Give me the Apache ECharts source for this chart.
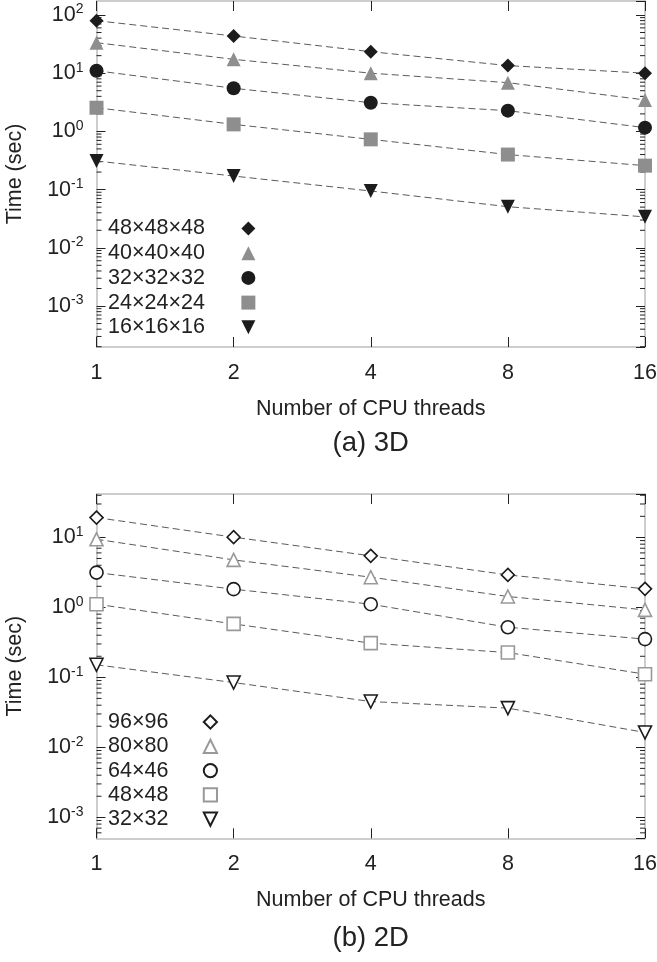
<!DOCTYPE html>
<html>
<head>
<meta charset="utf-8">
<script src="https://cdn.jsdelivr.net/npm/echarts@6/dist/echarts.min.js"></script>
<style>
html,body{margin:0;padding:0;background:#fff;}
#chart{width:657px;height:962px;}
</style>
</head>
<body>
<div id="chart"></div>
<script>
// ---- data ----
var threads = [1, 2, 4, 8, 16];
var xTickLabels = ['1', '2', '4', '8', '16'];

var names3D = ['48×48×48', '40×40×40', '32×32×32', '24×24×24', '16×16×16'];
var t3D_48 = [79.8, 43.5, 23.4, 13.5, 10.0];
var t3D_40 = [33.4, 17.3, 10.0, 6.87, 3.47];
var t3D_32 = [11.0, 5.5, 3.11, 2.27, 1.16];
var t3D_24 = [2.55, 1.32, 0.73, 0.40, 0.258];
var t3D_16 = [0.31, 0.171, 0.0946, 0.0508, 0.034];

var names2D = ['96×96', '80×80', '64×46', '48×48', '32×32'];
var t2D_96 = [19.2, 10.07, 5.45, 2.91, 1.84];
var t2D_80 = [9.4, 4.77, 2.70, 1.43, 0.92];
var t2D_64 = [3.14, 1.82, 1.11, 0.52, 0.352];
var t2D_48 = [1.11, 0.58, 0.308, 0.226, 0.111];
var t2D_32 = [0.151, 0.0843, 0.0451, 0.0363, 0.0163];

var yRange3D = [Math.pow(10, -3.704), Math.pow(10, 2.24)];
var yRange2D = [Math.pow(10, -3.30), Math.pow(10, 1.62)];

// ---- helpers ----
var FONT = 'Liberation Sans';
var TXT = '#222';
var AXIS_GRAY = '#bdbdbd';
var FS = 21.5;

function pairs(vals) {
  return threads.map(function (x, i) { return [x, vals[i]]; });
}
function minorTicks(range) {
  var out = [];
  for (var k = -5; k <= 3; k++) {
    for (var m = 2; m <= 9; m++) {
      var v = m * Math.pow(10, k);
      if (v > range[0] && v < range[1]) out.push([1, v]);
    }
  }
  return out;
}
function yLabel(v) {
  var e = Math.round(Math.log(v) / Math.LN10);
  return '{b|10}{s|' + e + '}';
}
var yRich = {
  b: { fontSize: FS, fontFamily: FONT, color: TXT },
  s: { fontSize: 14, fontFamily: FONT, color: TXT, padding: [0, 0, 11, 0] }
};

function xAxes(gi) {
  return [
    {
      type: 'log', logBase: 2, gridIndex: gi, min: 1, max: 16, position: 'bottom',
      axisLine: { show: true, lineStyle: { color: AXIS_GRAY, width: 1.5 } },
      axisTick: { show: true, inside: true, length: 10, lineStyle: { color: TXT, width: 1 } },
      axisLabel: {
        margin: 15, fontSize: FS, fontFamily: FONT, color: TXT,
        formatter: function (v) { var i = threads.indexOf(Math.round(v)); return i >= 0 ? xTickLabels[i] : ''; }
      },
      splitLine: { show: false },
      name: 'Number of CPU threads', nameLocation: 'middle', nameGap: 51,
      nameTextStyle: { fontSize: FS, fontFamily: FONT, color: TXT }
    },
    {
      type: 'log', logBase: 2, gridIndex: gi, min: 1, max: 16, position: 'top',
      axisLine: { show: true, lineStyle: { color: AXIS_GRAY, width: 1.5 } },
      axisTick: { show: true, inside: true, length: 10, lineStyle: { color: TXT, width: 1 } },
      axisLabel: { show: false },
      splitLine: { show: false }
    }
  ];
}
function yAxes(gi, range) {
  return [
    {
      type: 'log', logBase: 10, gridIndex: gi, min: range[0], max: range[1], position: 'left',
      axisLine: { show: true, lineStyle: { color: AXIS_GRAY, width: 1.5 } },
      axisTick: { show: true, inside: true, length: 9, lineStyle: { color: TXT, width: 1 } },
      axisLabel: { margin: 13, formatter: yLabel, rich: yRich, showMinLabel: false, showMaxLabel: false },
      splitLine: { show: false },
      name: 'Time (sec)', nameLocation: 'middle', nameGap: 70,
      nameTextStyle: { fontSize: FS, fontFamily: FONT, color: TXT }
    },
    {
      type: 'log', logBase: 10, gridIndex: gi, min: range[0], max: range[1], position: 'right',
      axisLine: { show: true, lineStyle: { color: AXIS_GRAY, width: 1.5 } },
      axisTick: { show: true, inside: true, length: 9, lineStyle: { color: TXT, width: 1 } },
      axisLabel: { show: false },
      splitLine: { show: false }
    }
  ];
}

var LINE = { color: '#5a5a5a', width: 1, type: [7, 4] };
var BLACK = '#1c1c1c', GRAY = '#8e8e8e', HGRAY = '#999';

function lineSeries(name, vals, xi, yi, symbol, rotate, size, itemStyle) {
  return {
    type: 'line', name: name, data: pairs(vals), xAxisIndex: xi, yAxisIndex: yi,
    symbol: symbol, symbolRotate: rotate, symbolSize: size,
    lineStyle: LINE, itemStyle: itemStyle, z: 3, silent: true
  };
}

function minorSeries(range, xi, yi) {
  return {
    type: 'custom', xAxisIndex: xi, yAxisIndex: yi, data: minorTicks(range),
    encode: { x: 0, y: 1 }, silent: true, clip: false, z: 1,
    renderItem: function (params, api) {
      var v = api.value(1);
      var pl = api.coord([1, v]);
      var pr = api.coord([16, v]);
      return {
        type: 'group',
        children: [
          { type: 'line', shape: { x1: pl[0], y1: pl[1], x2: pl[0] + 5, y2: pl[1] }, style: { stroke: TXT, lineWidth: 1 } },
          { type: 'line', shape: { x1: pr[0] - 5, y1: pr[1], x2: pr[0], y2: pr[1] }, style: { stroke: TXT, lineWidth: 1 } }
        ]
      };
    }
  };
}

var filled = function (c) { return { color: c, borderWidth: 0 }; };
var hollow = function (c) { return { color: '#fff', borderColor: c, borderWidth: 1.6 }; };

var series = [
  lineSeries(names3D[0], t3D_48, 0, 0, 'diamond', 0, 14, filled(BLACK)),
  lineSeries(names3D[1], t3D_40, 0, 0, 'triangle', 0, 14, filled(GRAY)),
  lineSeries(names3D[2], t3D_32, 0, 0, 'circle', 0, 14, filled(BLACK)),
  lineSeries(names3D[3], t3D_24, 0, 0, 'rect', 0, 14, filled(GRAY)),
  lineSeries(names3D[4], t3D_16, 0, 0, 'triangle', 180, 14, filled(BLACK)),
  lineSeries(names2D[0], t2D_96, 2, 2, 'diamond', 0, 13, hollow(BLACK)),
  lineSeries(names2D[1], t2D_80, 2, 2, 'triangle', 0, 13, hollow(HGRAY)),
  lineSeries(names2D[2], t2D_64, 2, 2, 'circle', 0, 13, hollow(BLACK)),
  lineSeries(names2D[3], t2D_48, 2, 2, 'rect', 0, 13, hollow(HGRAY)),
  lineSeries(names2D[4], t2D_32, 2, 2, 'triangle', 180, 13, hollow(BLACK)),
  minorSeries(yRange3D, 0, 0),
  minorSeries(yRange2D, 2, 2)
];

function legend(names, top, ih, iw, gap) {
  return {
    data: names, orient: 'vertical', left: 103, top: top, align: 'right',
    itemWidth: iw, itemHeight: ih, itemGap: gap, selectedMode: false,
    lineStyle: { color: 'transparent', width: 0 },
    textStyle: { fontSize: FS, fontFamily: FONT, color: TXT }
  };
}

var option = {
  animation: false,
  backgroundColor: '#fff',
  grid: [
    { left: 96.5, top: 1, width: 548.5, height: 346, outerBoundsMode: 'none', containLabel: false },
    { left: 96.5, top: 494, width: 548.5, height: 344.3, outerBoundsMode: 'none', containLabel: false }
  ],
  xAxis: xAxes(0).concat(xAxes(1)),
  yAxis: yAxes(0, yRange3D).concat(yAxes(1, yRange2D)),
  legend: [legend(names3D, 212.5, 17.5, 77, 2.7), legend(names2D, 706, 16.5, 74, 2.3)],
  series: series,
  graphic: [
    { type: 'text', x: 370.7, y: 443, style: { text: '(a) 3D', fontSize: 27.5, fontFamily: FONT, fill: TXT, align: 'center', verticalAlign: 'middle' } },
    { type: 'text', x: 370.7, y: 938, style: { text: '(b) 2D', fontSize: 27.5, fontFamily: FONT, fill: TXT, align: 'center', verticalAlign: 'middle' } }
  ]
};

var chart = echarts.init(document.getElementById('chart'), null, { renderer: 'canvas' });
chart.setOption(option);
</script>
</body>
</html>
